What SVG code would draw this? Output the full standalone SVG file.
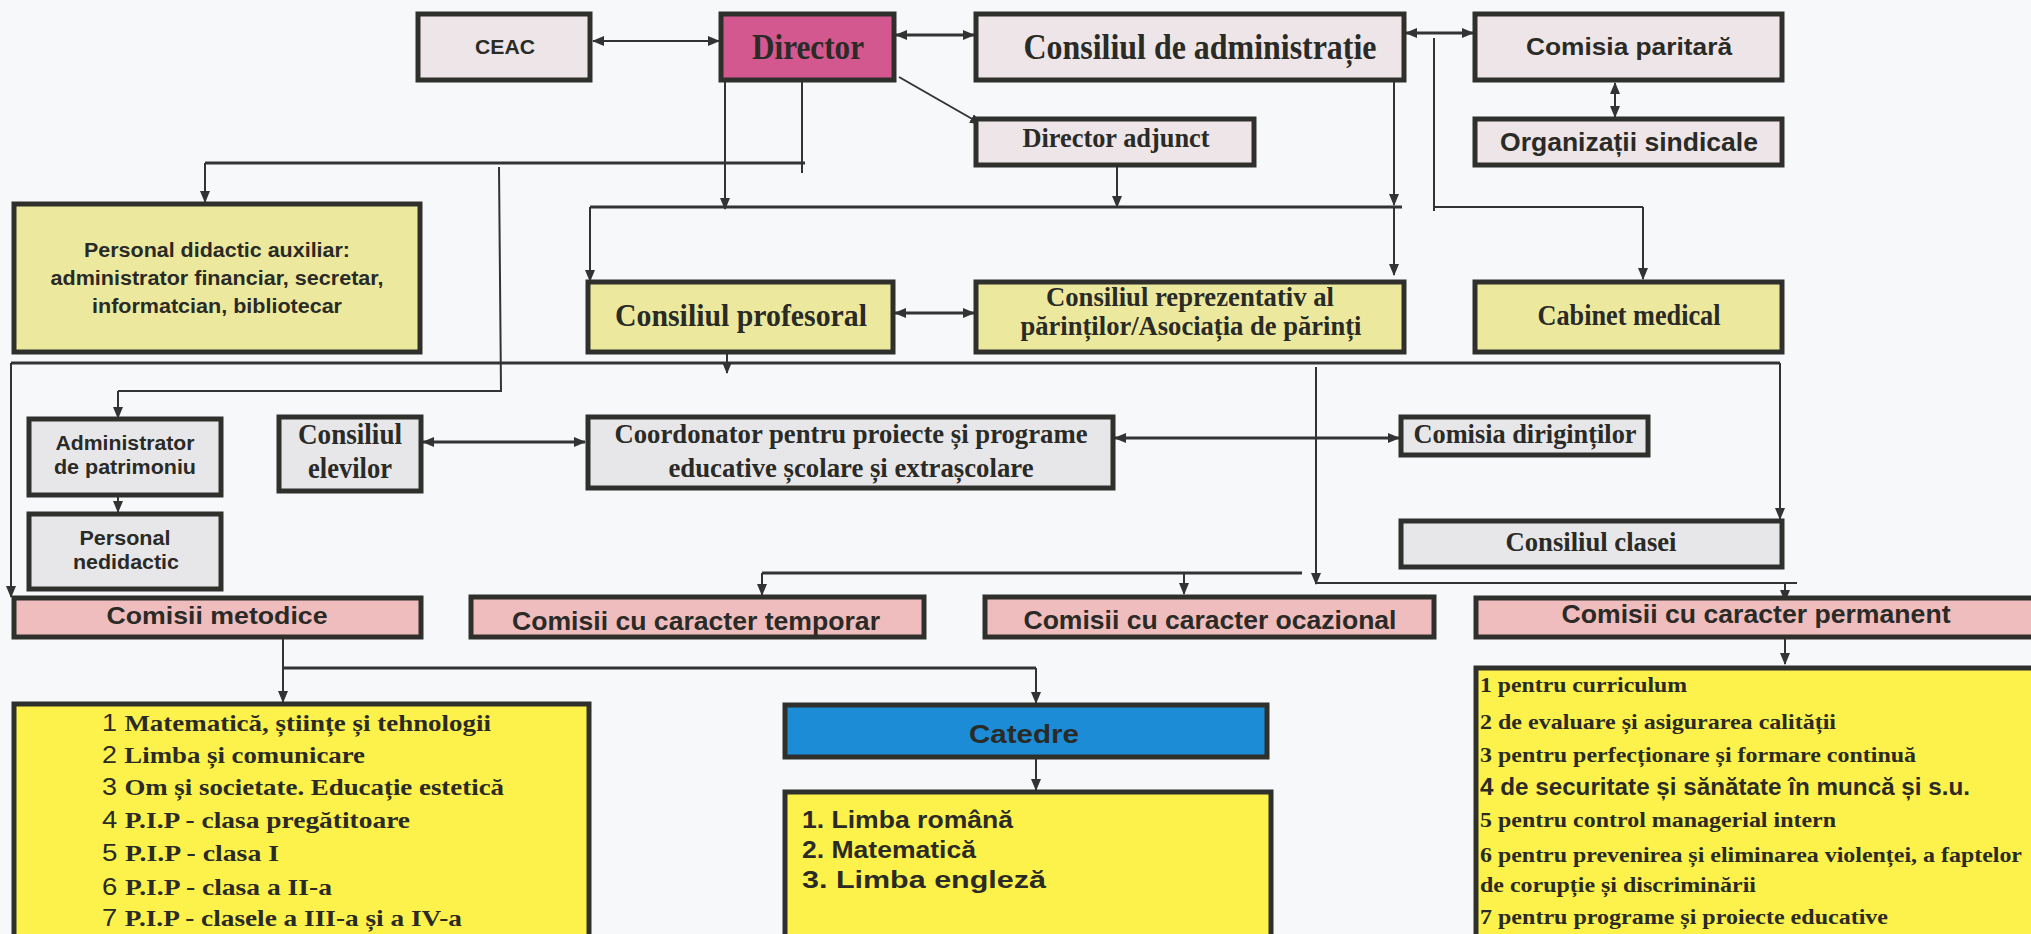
<svg xmlns="http://www.w3.org/2000/svg" width="2031" height="934" viewBox="0 0 2031 934">
<defs>
<marker id="ah" viewBox="0 0 12 10" refX="11" refY="5" markerWidth="12" markerHeight="10" markerUnits="userSpaceOnUse" orient="auto-start-reverse"><path d="M0,0 L12,5 L0,10 Z" fill="#333"/></marker>
<style>
.bx{stroke:#2f302c;stroke-width:5}
.pk{fill:#ede5e7}
.dr{fill:#d3588f}
.yb{fill:#ece99f}
.gr{fill:#e7e7ea}
.sa{fill:#efbdbd}
.yl{fill:#fdf24b}
.bl{fill:#1c8cd6}
.c{fill:none;stroke:#333;stroke-width:2}
.c3{fill:none;stroke:#333;stroke-width:3}
.a{marker-end:url(#ah)}
.aa{marker-end:url(#ah);marker-start:url(#ah)}
.t{font-family:"Liberation Serif","Times New Roman",serif;font-weight:bold;fill:#2a2a26}
.s{font-family:"Liberation Sans",Arial,sans-serif;font-weight:bold;fill:#2a2a26}
.n{font-family:"Liberation Sans",Arial,sans-serif;font-weight:normal}
</style>
</defs>
<rect x="0" y="0" width="2031" height="934" fill="#f6f8fa"/>

<g id="connectors">
<line class="c aa" x1="593" y1="41" x2="719" y2="41"/>
<line class="c3 aa" x1="896" y1="35" x2="974" y2="35"/>
<line class="c3 aa" x1="1406" y1="33" x2="1473" y2="33"/>
<line class="c aa" x1="1615" y1="83" x2="1615" y2="117"/>
<line class="c a" x1="899" y1="77" x2="981" y2="124"/>
<polyline class="c" points="802,82 802,173"/>
<polyline class="c3" points="805,163 205,163"/>
<line class="c a" x1="205" y1="163" x2="205" y2="202"/>
<polyline class="c" points="499,167 501,391 118,391"/>
<line class="c a" x1="118" y1="391" x2="118" y2="418"/>
<line class="c a" x1="725" y1="82" x2="725" y2="209"/>
<line class="c3" x1="590" y1="207" x2="1402" y2="207"/>
<line class="c a" x1="590" y1="207" x2="590" y2="281"/>
<line class="c a" x1="1117" y1="167" x2="1117" y2="207"/>
<line class="c a" x1="1394" y1="82" x2="1394" y2="205"/>
<line class="c a" x1="1394" y1="207" x2="1394" y2="275"/>
<polyline class="c" points="1434,38 1434,211"/>
<polyline class="c" points="1434,207 1643,207"/>
<line class="c a" x1="1643" y1="207" x2="1643" y2="279"/>
<line class="c3 aa" x1="895" y1="313" x2="974" y2="313"/>
<line class="c3" x1="11" y1="363" x2="1780" y2="363"/>
<line class="c a" x1="727" y1="354" x2="727" y2="373"/>
<line class="c a" x1="11" y1="363" x2="11" y2="597"/>
<line class="c a" x1="118" y1="496" x2="118" y2="512"/>
<line class="c3 aa" x1="423" y1="442" x2="585" y2="442"/>
<line class="c3 aa" x1="1115" y1="438" x2="1399" y2="438"/>
<line class="c a" x1="1780" y1="363" x2="1780" y2="519"/>
<line class="c a" x1="1316" y1="367" x2="1316" y2="584"/>
<line class="c3" x1="762" y1="573" x2="1302" y2="573"/>
<line class="c a" x1="762" y1="573" x2="762" y2="595"/>
<line class="c a" x1="1184" y1="573" x2="1184" y2="594"/>
<line class="c" x1="1316" y1="583" x2="1797" y2="583"/>
<line class="c a" x1="1785" y1="583" x2="1785" y2="601"/>
<line class="c a" x1="1785" y1="639" x2="1785" y2="664"/>
<line class="c a" x1="283" y1="639" x2="283" y2="702"/>
<line class="c3" x1="283" y1="668" x2="1036" y2="668"/>
<line class="c a" x1="1036" y1="668" x2="1036" y2="703"/>
<line class="c a" x1="1036" y1="759" x2="1036" y2="790"/>
</g>

<g id="ceac"><rect class="bx pk" x="418" y="14" width="172" height="66"/><text class="s" x="505" y="54" font-size="20" text-anchor="middle" textLength="60" lengthAdjust="spacingAndGlyphs">CEAC</text></g>
<g id="director"><rect class="bx dr" x="721" y="14" width="173" height="66"/><text class="t" x="808" y="59" font-size="36" text-anchor="middle" textLength="112" lengthAdjust="spacingAndGlyphs">Director</text></g>
<g id="consiliul-administratie"><rect class="bx pk" x="976" y="14" width="428" height="66"/><text class="t" x="1200" y="59" font-size="36" text-anchor="middle" textLength="353" lengthAdjust="spacingAndGlyphs">Consiliul de administrație</text></g>
<g id="comisia-paritara"><rect class="bx pk" x="1475" y="14" width="307" height="66"/><text class="s" x="1629" y="55" font-size="24" text-anchor="middle" textLength="206" lengthAdjust="spacingAndGlyphs">Comisia paritară</text></g>
<g id="director-adjunct"><rect class="bx pk" x="976" y="119" width="278" height="46"/><text class="t" x="1116" y="147" font-size="27" text-anchor="middle" textLength="187" lengthAdjust="spacingAndGlyphs">Director adjunct</text></g>
<g id="organizatii-sindicale"><rect class="bx pk" x="1475" y="119" width="307" height="46"/><text class="s" x="1629" y="151" font-size="25" text-anchor="middle" textLength="258" lengthAdjust="spacingAndGlyphs">Organizații sindicale</text></g>
<g id="personal-didactic-auxiliar"><rect class="bx yb" x="14" y="204" width="406" height="148"/>
<text class="s" font-size="20" text-anchor="middle"><tspan x="217" y="257" textLength="266" lengthAdjust="spacingAndGlyphs">Personal didactic auxiliar:</tspan><tspan x="217" y="285" textLength="333" lengthAdjust="spacingAndGlyphs">administrator financiar, secretar,</tspan><tspan x="217" y="313" textLength="250" lengthAdjust="spacingAndGlyphs">informatcian, bibliotecar</tspan></text></g>
<g id="consiliul-profesoral"><rect class="bx yb" x="588" y="282" width="305" height="70"/><text class="t" x="741" y="326" font-size="32" text-anchor="middle" textLength="252" lengthAdjust="spacingAndGlyphs">Consiliul profesoral</text></g>
<g id="consiliul-reprezentativ"><rect class="bx yb" x="976" y="282" width="428" height="70"/>
<text class="t" font-size="27" text-anchor="middle"><tspan x="1190" y="306" textLength="288" lengthAdjust="spacingAndGlyphs">Consiliul reprezentativ al</tspan><tspan x="1191" y="335" textLength="341" lengthAdjust="spacingAndGlyphs">părinților/Asociația de părinți</tspan></text></g>
<g id="cabinet-medical"><rect class="bx yb" x="1475" y="282" width="307" height="70"/><text class="t" x="1629" y="325" font-size="29" text-anchor="middle" textLength="183" lengthAdjust="spacingAndGlyphs">Cabinet medical</text></g>
<g id="administrator-patrimoniu"><rect class="bx gr" x="29" y="419" width="192" height="76"/>
<text class="s" font-size="20" text-anchor="middle"><tspan x="125" y="450" textLength="139" lengthAdjust="spacingAndGlyphs">Administrator</tspan><tspan x="125" y="474" textLength="142" lengthAdjust="spacingAndGlyphs">de patrimoniu</tspan></text></g>
<g id="personal-nedidactic"><rect class="bx gr" x="29" y="514" width="192" height="75"/>
<text class="s" font-size="20" text-anchor="middle"><tspan x="125" y="545" textLength="91" lengthAdjust="spacingAndGlyphs">Personal</tspan><tspan x="126" y="569" textLength="106" lengthAdjust="spacingAndGlyphs">nedidactic</tspan></text></g>
<g id="consiliul-elevilor"><rect class="bx gr" x="279" y="417" width="142" height="74"/>
<text class="t" font-size="29" text-anchor="middle"><tspan x="350" y="444" textLength="104" lengthAdjust="spacingAndGlyphs">Consiliul</tspan><tspan x="350" y="478" textLength="84" lengthAdjust="spacingAndGlyphs">elevilor</tspan></text></g>
<g id="coordonator"><rect class="bx gr" x="588" y="417" width="525" height="71"/>
<text class="t" font-size="28" text-anchor="middle"><tspan x="851" y="443" textLength="473" lengthAdjust="spacingAndGlyphs">Coordonator pentru proiecte și programe</tspan><tspan x="851" y="477" textLength="365" lengthAdjust="spacingAndGlyphs">educative școlare și extrașcolare</tspan></text></g>
<g id="comisia-dirigintilor"><rect class="bx gr" x="1401" y="417" width="247" height="38"/><text class="t" x="1525" y="443" font-size="28" text-anchor="middle" textLength="223" lengthAdjust="spacingAndGlyphs">Comisia diriginților</text></g>
<g id="consiliul-clasei"><rect class="bx gr" x="1401" y="521" width="381" height="46"/><text class="t" x="1591" y="551" font-size="27" text-anchor="middle" textLength="171" lengthAdjust="spacingAndGlyphs">Consiliul clasei</text></g>
<g id="comisii-metodice"><rect class="bx sa" x="14" y="598" width="407" height="39"/><text class="s" x="217" y="624" font-size="24" text-anchor="middle" textLength="221" lengthAdjust="spacingAndGlyphs">Comisii metodice</text></g>
<g id="comisii-temporar"><rect class="bx sa" x="471" y="597" width="453" height="40"/><text class="s" x="696" y="630" font-size="25" text-anchor="middle" textLength="368" lengthAdjust="spacingAndGlyphs">Comisii cu caracter temporar</text></g>
<g id="comisii-ocazional"><rect class="bx sa" x="985" y="597" width="449" height="40"/><text class="s" x="1210" y="629" font-size="25" text-anchor="middle" textLength="373" lengthAdjust="spacingAndGlyphs">Comisii cu caracter ocazional</text></g>
<g id="comisii-permanent"><rect class="bx sa" x="1476" y="598" width="570" height="39"/><text class="s" x="1756" y="623" font-size="25" text-anchor="middle" textLength="389" lengthAdjust="spacingAndGlyphs">Comisii cu caracter permanent</text></g>
<g id="lista-metodice"><rect class="bx yl" x="14" y="704" width="575" height="245"/>
<text class="t" font-size="23" x="102" y="731" textLength="389" lengthAdjust="spacingAndGlyphs"><tspan class="n">1 </tspan>Matematică, științe și tehnologii</text>
<text class="t" font-size="23" x="102" y="763" textLength="263" lengthAdjust="spacingAndGlyphs"><tspan class="n">2 </tspan>Limba și comunicare</text>
<text class="t" font-size="23" x="102" y="795" textLength="402" lengthAdjust="spacingAndGlyphs"><tspan class="n">3 </tspan>Om și societate. Educație estetică</text>
<text class="t" font-size="23" x="102" y="828" textLength="308" lengthAdjust="spacingAndGlyphs"><tspan class="n">4 </tspan>P.I.P - clasa pregătitoare</text>
<text class="t" font-size="23" x="102" y="861" textLength="177" lengthAdjust="spacingAndGlyphs"><tspan class="n">5 </tspan>P.I.P - clasa I</text>
<text class="t" font-size="23" x="102" y="895" textLength="230" lengthAdjust="spacingAndGlyphs"><tspan class="n">6 </tspan>P.I.P - clasa a II-a</text>
<text class="t" font-size="23" x="102" y="926" textLength="360" lengthAdjust="spacingAndGlyphs"><tspan class="n">7 </tspan>P.I.P - clasele a III-a și a IV-a</text></g>
<g id="catedre"><rect class="bx bl" x="785" y="705" width="482" height="52"/><text class="s" x="1024" y="743" font-size="25" text-anchor="middle" textLength="110" lengthAdjust="spacingAndGlyphs">Catedre</text></g>
<g id="lista-catedre"><rect class="bx yl" x="785" y="792" width="486" height="160"/>
<text class="s" font-size="23"><tspan x="802" y="828" textLength="211" lengthAdjust="spacingAndGlyphs">1. Limba română</tspan><tspan x="802" y="858" textLength="174" lengthAdjust="spacingAndGlyphs">2. Matematică</tspan><tspan x="802" y="888" textLength="244" lengthAdjust="spacingAndGlyphs">3. Limba engleză</tspan></text></g>
<g id="lista-permanent"><rect class="bx yl" x="1476" y="668" width="570" height="280"/>
<text class="t" font-size="22"><tspan x="1480" y="692" textLength="207" lengthAdjust="spacingAndGlyphs">1 pentru curriculum</tspan><tspan x="1480" y="729" textLength="356" lengthAdjust="spacingAndGlyphs">2 de evaluare și asigurarea calității</tspan><tspan x="1480" y="762" textLength="436" lengthAdjust="spacingAndGlyphs">3 pentru perfecționare și formare continuă</tspan></text>
<text class="s" font-size="23" x="1480" y="795" textLength="490" lengthAdjust="spacingAndGlyphs">4 de securitate și sănătate în muncă și s.u.</text>
<text class="t" font-size="22"><tspan x="1480" y="827" textLength="356" lengthAdjust="spacingAndGlyphs">5 pentru control managerial intern</tspan><tspan x="1480" y="862" textLength="542" lengthAdjust="spacingAndGlyphs">6 pentru prevenirea și eliminarea violenței, a faptelor</tspan><tspan x="1480" y="892" textLength="276" lengthAdjust="spacingAndGlyphs">de corupție și discriminării</tspan><tspan x="1480" y="924" textLength="408" lengthAdjust="spacingAndGlyphs">7 pentru programe și proiecte educative</tspan></text></g>
</svg>
